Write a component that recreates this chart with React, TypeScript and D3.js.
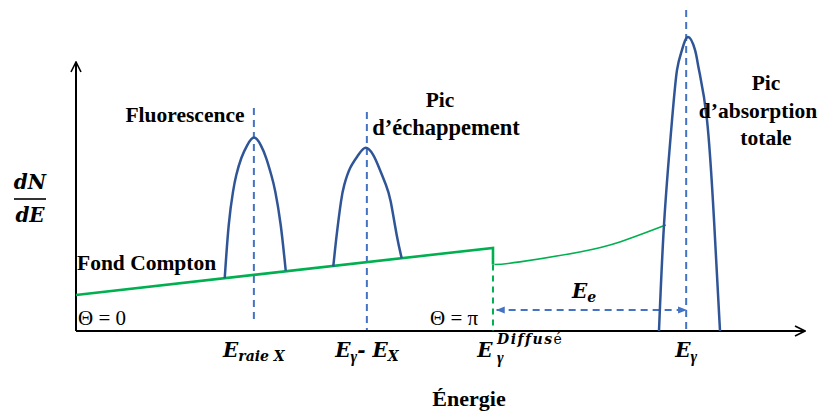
import * as d3 from "d3";

// schematic gamma spectrum (arbitrary units)
const energyDomain: [number, number] = [0, 1000];
const countDomain: [number, number] = [0, 100];

const comptonPlateau: [number, number][] = [[0, 13.4], [572, 30.9], [572, 24.7]];
const comptonRemontee: [number, number][] = [[574, 24.7], [609, 25.7], [691, 29.4], [746, 33.1], [809, 39.4]];

const picFluorescence: [number, number][] = [
  [204, 19.6], [209.5, 39.4], [215.4, 51.8], [219.9, 58], [226.7, 64.2], [235, 69.1], [244.2, 71.9],
  [253.4, 69.1], [261, 64.2], [267.9, 58], [273.4, 51.8], [280.8, 39.4], [287.7, 22.4],
];
const picEchappement: [number, number][] = [
  [352.9, 23.9], [357.6, 35.7], [363.5, 48.1], [368, 54.3], [375.9, 60.5], [387.2, 65.4], [397.4, 68.1],
  [407.8, 65.4], [416, 60.5], [425.2, 54.3], [431.7, 48.1], [439.9, 35.7], [446.8, 27],
];
const picAbsorption: [number, number][] = [
  [799.7, 0], [807, 41.3], [817.6, 78.4], [824.4, 97], [831.3, 104.5], [839.5, 109.3],
  [849.1, 104.5], [854.6, 97], [865.6, 78.4], [875.2, 41.3], [883.4, 0],
];

const raieEnergies = [244, 399, 837];
const raieTops = [82.9, 81.4, 119.3];
const raieBottoms = [3.3, 0.4, 0];
const comptonEdge = 572;
const comptonEdgeLevel = 24.7;
const electronRange: [number, number] = [577, 837];
const electronLevel = 7.8;

const BLUE = "#2f5597";
const DASH_BLUE = "#4472c4";
const GREEN = "#00b050";
const SERIF = "'Liberation Serif', 'Times New Roman', serif";
const MATH = "'DejaVu Serif', serif";

export default function App() {
  const width = 824;
  const height = 414;
  const x = d3.scaleLinear().domain(energyDomain).range([76, 805]);
  const y = d3.scaleLinear().domain(countDomain).range([331, 62]);

  const line = d3.line<[number, number]>().x((d) => x(d[0])).y((d) => y(d[1]));
  const smooth = d3
    .line<[number, number]>()
    .x((d) => x(d[0]))
    .y((d) => y(d[1]))
    .curve(d3.curveNatural);

  const bold = { fontFamily: SERIF, fontWeight: 700, fontSize: 21.5, fill: "#000" };
  const math = { fontFamily: MATH, fontWeight: 700, fontStyle: "italic", fontSize: 20, fill: "#000" };

  return (
    <svg width={width} height={height} style={{ position: "absolute", left: 0, top: 0, background: "#fff" }}>
      <defs>
        <marker id="axisArrow" viewBox="0 0 12 12" refX="11" refY="6" markerWidth="12" markerHeight="12" markerUnits="userSpaceOnUse" orient="auto">
          <path d="M1,1 L11,6 L1,11" fill="none" stroke="#000" strokeWidth={1.6} />
        </marker>
        <marker id="eeArrow" viewBox="0 0 10 10" refX="9" refY="5" markerWidth="9" markerHeight="9" markerUnits="userSpaceOnUse" orient="auto-start-reverse">
          <path d="M0,1 L10,5 L0,9 Z" fill={DASH_BLUE} />
        </marker>
      </defs>

      {/* axes */}
      <line x1={x(0)} y1={y(0)} x2={x(energyDomain[1])} y2={y(0)} stroke="#000" strokeWidth={2} markerEnd="url(#axisArrow)" />
      <line x1={x(0)} y1={y(0)} x2={x(0)} y2={y(countDomain[1])} stroke="#000" strokeWidth={2} markerEnd="url(#axisArrow)" />

      {/* dashed reference lines */}
      {raieEnergies.map((e, i) => (
        <line key={i} x1={x(e)} x2={x(e)} y1={y(raieTops[i])} y2={y(raieBottoms[i])} stroke={DASH_BLUE} strokeWidth={2} strokeDasharray="7,5" />
      ))}
      <line x1={x(comptonEdge)} x2={x(comptonEdge)} y1={y(comptonEdgeLevel)} y2={y(0)} stroke={GREEN} strokeWidth={2} strokeDasharray="6,5" />
      <line
        x1={x(electronRange[0])}
        x2={x(electronRange[1])}
        y1={y(electronLevel)}
        y2={y(electronLevel)}
        stroke={DASH_BLUE}
        strokeWidth={2}
        strokeDasharray="7,5"
        markerStart="url(#eeArrow)"
        markerEnd="url(#eeArrow)"
      />

      {/* Compton background */}
      <path d={line(comptonPlateau) ?? ""} fill="none" stroke={GREEN} strokeWidth={2.6} />
      <path d={smooth(comptonRemontee) ?? ""} fill="none" stroke={GREEN} strokeWidth={1.6} />

      {/* peaks */}
      {[picFluorescence, picEchappement, picAbsorption].map((p, i) => (
        <path key={i} d={smooth(p) ?? ""} fill="none" stroke={BLUE} strokeWidth={2.5} />
      ))}

      {/* annotations */}
      <text x={185} y={122} textAnchor="middle" {...bold}>Fluorescence</text>
      <text x={440} y={107} textAnchor="middle" {...bold}>Pic</text>
      <text x={446} y={135} textAnchor="middle" {...bold} fontSize={22.5}>d’échappement</text>
      <text x={766} y={90} textAnchor="middle" {...bold}>Pic</text>
      <text x={758} y={118} textAnchor="middle" {...bold}>d’absorption</text>
      <text x={766} y={145} textAnchor="middle" {...bold}>totale</text>
      <text x={77} y={270} {...bold}>Fond Compton</text>

      <text x={78} y={325} fontFamily={SERIF} fontSize={21}>Θ = 0</text>
      <text x={430} y={325} fontFamily={SERIF} fontSize={21}>Θ = π</text>

      <text x={30} y={189} textAnchor="middle" {...math}>dN</text>
      <line x1={14} x2={46} y1={199} y2={199} stroke="#000" strokeWidth={1.6} />
      <text x={30} y={222} textAnchor="middle" {...math}>dE</text>

      <text x={572} y={298} {...math}>
        E<tspan fontSize={14} dy={4}>e</tspan>
      </text>

      {/* energy labels */}
      <text x={x(raieEnergies[0])} y={357} textAnchor="middle" {...math}>
        E<tspan fontSize={14} dy={4}>raie X</tspan>
      </text>
      <text x={x(raieEnergies[1])} y={357} textAnchor="middle" {...math}>
        E<tspan fontFamily={SERIF} fontSize={16} dy={5}>γ</tspan>
        <tspan dy={-5}>- E</tspan>
        <tspan fontSize={14} dy={4}>X</tspan>
      </text>
      <text x={x(comptonEdge) - 8} y={357} textAnchor="middle" {...math}>E</text>
      <text x={x(comptonEdge) + 4} y={344} {...math} fontSize={14} letterSpacing={1.5}>
        Diffus<tspan fontStyle="normal" fontWeight={400}>é</tspan>
      </text>
      <text x={x(comptonEdge) + 4} y={363} {...math} fontFamily={SERIF} fontSize={16}>γ</text>
      <text x={x(raieEnergies[2])} y={357} textAnchor="middle" {...math}>
        E<tspan fontFamily={SERIF} fontSize={16} dy={5}>γ</tspan>
      </text>

      <text x={469} y={406} textAnchor="middle" {...bold} fontSize={22}>Énergie</text>
    </svg>
  );
}
